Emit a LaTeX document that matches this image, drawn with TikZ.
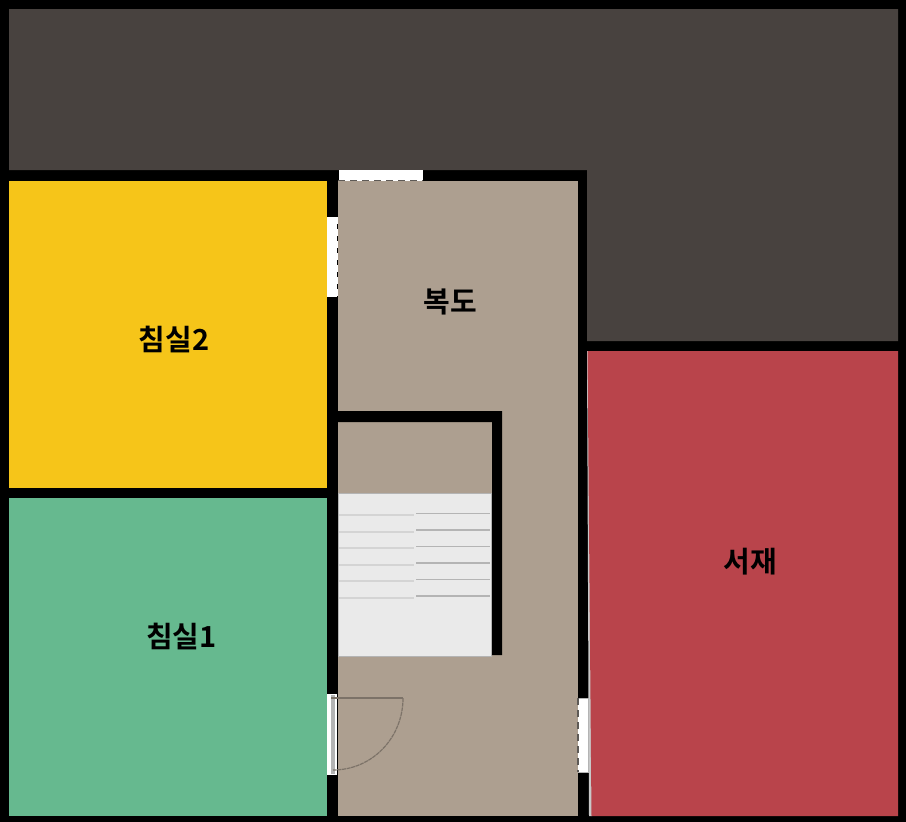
\documentclass[tikz,border=0pt]{standalone}
\usepackage{fontspec}
\newfontfamily\krfont{Noto Sans CJK KR}[BoldFont={Noto Sans CJK KR Bold}]
\definecolor{darkroom}{HTML}{48423F}
\definecolor{yellowroom}{HTML}{F6C519}
\definecolor{greenroom}{HTML}{66B98F}
\definecolor{tanroom}{HTML}{AD9F90}
\definecolor{redroom}{HTML}{B9444B}
\definecolor{stairfill}{HTML}{EAEAEA}
\definecolor{stairline}{HTML}{B4B4B4}
\definecolor{stairfaint}{HTML}{D4D4D4}
\definecolor{doorline}{HTML}{7C7268}
\definecolor{sliver}{HTML}{C8C8C8}
\definecolor{dashgrey}{HTML}{5E5A56}
\tikzset{
  x=1pt,y=-1pt,
  roomlabel/.style={font=\krfont\bfseries\fontsize{29}{29}\selectfont,text=black,inner sep=0pt},
  wallpart/.style={fill=black,draw=none},
  winpane/.style={fill=white,draw=none},
  windash/.style={draw=dashgrey,line width=1.4pt,dash pattern=on 7pt off 5pt},
  stairedgeL/.style={draw=stairfaint,line width=1.2pt},
  stairedgeR/.style={draw=stairline,line width=1.6pt},
  doorswing/.style={draw=doorline,line width=1.2pt}
}
\begin{document}
\begin{tikzpicture}
\useasboundingbox (0,0) rectangle (906,822);
\fill[black] (0,0) rectangle (906,822);
% rooms
\fill[darkroom] (9,9) -- (898,9) -- (898,341) -- (587,341) -- (587,170) -- (9,170) -- cycle;
\fill[yellowroom] (9,181) rectangle (327,488);
\fill[greenroom] (9,498) rectangle (327,816);
\fill[tanroom] (338,181) rectangle (578,816);
\fill[sliver] (587,351) -- (592,351) -- (592,816) -- (589,816) -- cycle;
\fill[redroom] (587.5,351) -- (898,351) -- (898,816) -- (591.5,816) -- cycle;
% inner stair wall
\fill[wallpart] (338,411) -- (502,411) -- (502,655) -- (492,655) -- (492,422) -- (338,422) -- cycle;
% stairs
\fill[stairfill,draw=stairline,line width=0.6pt] (338,493.5) rectangle (491.5,656);
\foreach \yy in {515,532,548,565,581,598}{
  \draw[stairedgeL] (339,\yy) -- (414,\yy);
}
\foreach \yy in {513.5,530,546.5,563,579.5,596}{
  \draw[stairedgeR] (416,\yy) -- (490,\yy);
}
% windows
\fill[winpane] (338.5,170) rectangle (423,180.5);
\draw[windash] (338,180.5) -- (423,180.5);
\fill[winpane] (327,217) rectangle (336.5,297);
\draw[windash,draw=white] (337.2,217) -- (337.2,297);
\draw[draw=stairline,line width=1pt] (577.5,698) -- (588,698) -- (588,772) -- (577.5,772);
\fill[winpane] (578,699) rectangle (587.5,771.5);
\draw[windash] (577.8,698) -- (577.8,772);
% door
\fill[winpane] (327,694) rectangle (337,775);
\fill[stairline] (330.5,695) rectangle (334.5,774);
\draw[doorswing,line width=1.8pt] (331,698) -- (403,698);
\draw[doorswing,dash pattern=on 4pt off 0.7pt] (403,698) .. controls (403,738) and (372,770) .. (333,770);
% labels
\node[roomlabel] (hall) at (450,301.5) {복도};
\node[roomlabel] (bed2) at (174,339.5) {침실2};
\node[roomlabel] (bed1) at (181.5,637) {침실1};
\node[roomlabel] (study) at (750,561.5) {서재};
\end{tikzpicture}
\end{document}
